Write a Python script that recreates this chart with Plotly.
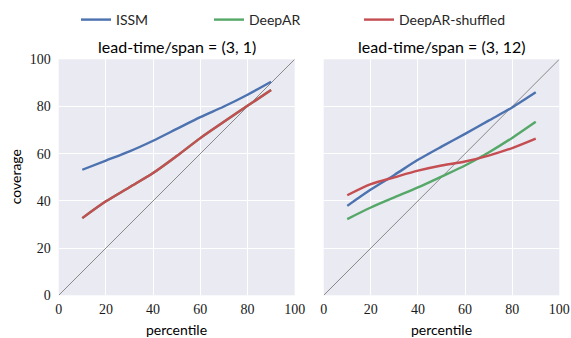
import plotly.graph_objects as go

percentile = [10, 20, 30, 40, 50, 60, 70, 80, 90]

# panel 1: lead-time/span = (3, 1)
issm_1 = [53.2, 57.1, 61.0, 65.5, 70.5, 75.5, 80.0, 85.0, 90.5]
deepar_1 = [32.7, 39.8, 45.8, 51.8, 59.0, 66.6, 73.5, 80.3, 87.0]
shuffled_1 = [32.7, 39.8, 45.8, 51.8, 59.0, 66.6, 73.5, 80.3, 87.0]

# panel 2: lead-time/span = (3, 12)
issm_2 = [37.9, 44.8, 51.0, 57.4, 63.0, 68.4, 74.0, 79.6, 86.0]
deepar_2 = [32.3, 37.2, 41.5, 45.7, 50.3, 55.0, 60.5, 66.7, 73.5]
shuffled_2 = [42.4, 47.1, 50.0, 52.8, 55.0, 56.7, 59.2, 62.4, 66.4]

diag = [0, 100]
ticks = [0, 20, 40, 60, 80, 100]
titles = ["lead-time/span = (3, 1)", "lead-time/span = (3, 12)"]

names = ["ISSM", "DeepAR", "DeepAR-shuffled"]
colors = ["#4C72B0", "#55A868", "#C44E52"]
legends = ["legend", "legend2", "legend3"]

W, H = 571, 338
SANS = "Lato"
SERIF = "Liberation Serif"

fig = go.Figure()

panels = [(issm_1, deepar_1, shuffled_1), (issm_2, deepar_2, shuffled_2)]
for p, series in enumerate(panels):
    xa = "x" if p == 0 else "x2"
    ya = "y" if p == 0 else "y2"
    fig.add_trace(go.Scatter(x=diag, y=diag, mode="lines",
                             line=dict(color="#888888", width=1),
                             showlegend=False, hoverinfo="skip",
                             xaxis=xa, yaxis=ya))
    for i, s in enumerate(series):
        fig.add_trace(go.Scatter(
            x=percentile, y=s, mode="lines", name=names[i],
            line=dict(color=colors[i], width=2.4, shape="spline", smoothing=0.8),
            showlegend=(p == 0), legend=legends[i],
            xaxis=xa, yaxis=ya))

def px(x):
    return x / W

def py(y):
    return 1 - y / H

x1 = [px(58.7), px(294.7)]
x2 = [px(323.7), px(559.3)]
yd = [py(295.3), py(59.3)]

def axis(**kw):
    d = dict(range=[0, 100], tickvals=ticks, showline=False, zeroline=False,
             gridcolor="white", gridwidth=1.2, ticks="",
             tickfont=dict(family=SERIF, size=14, color="#1a1a1a"))
    d.update(kw)
    return d

fig.update_layout(
    width=W, height=H,
    margin=dict(l=0, r=0, t=0, b=0, autoexpand=False),
    paper_bgcolor="white", plot_bgcolor="#EAEAF2",
    xaxis=axis(domain=x1, anchor="y", ticklabelstandoff=4),
    yaxis=axis(domain=yd, anchor="x", ticklabelstandoff=7),
    xaxis2=axis(domain=x2, anchor="y2", ticklabelstandoff=4),
    yaxis2=axis(domain=yd, anchor="x2", showticklabels=False),
    showlegend=True,
)

leg_x = [84, 217, 367]
for i, lg in enumerate(legends):
    fig.update_layout({lg: dict(x=px(leg_x[i] - 8), y=py(20), xanchor="left", yanchor="middle",
                                orientation="h", bgcolor="rgba(0,0,0,0)",
                                font=dict(family=SANS, size=14, color="#262626"),
                                itemwidth=30, tracegroupgap=0)})

for i, t in enumerate(titles):
    xc = (x1[0] + x1[1]) / 2 if i == 0 else (x2[0] + x2[1]) / 2
    fig.add_annotation(text=t, x=xc, y=py(46), xref="paper", yref="paper",
                       showarrow=False, xanchor="center", yanchor="middle",
                       font=dict(family=SANS, size=16, color="black"))

for xc in [(x1[0] + x1[1]) / 2, (x2[0] + x2[1]) / 2]:
    fig.add_annotation(text="percentile", x=xc, y=py(329), xref="paper", yref="paper",
                       showarrow=False, xanchor="center", yanchor="middle",
                       font=dict(family=SANS, size=14, color="black"))

fig.add_annotation(text="coverage", x=px(15), y=(yd[0] + yd[1]) / 2, xref="paper", yref="paper",
                   showarrow=False, xanchor="center", yanchor="middle", textangle=-90,
                   font=dict(family=SANS, size=14, color="black"))

fig.write_html("out.html", config={"displayModeBar": False},
               post_script="document.body.style.margin='0';")
